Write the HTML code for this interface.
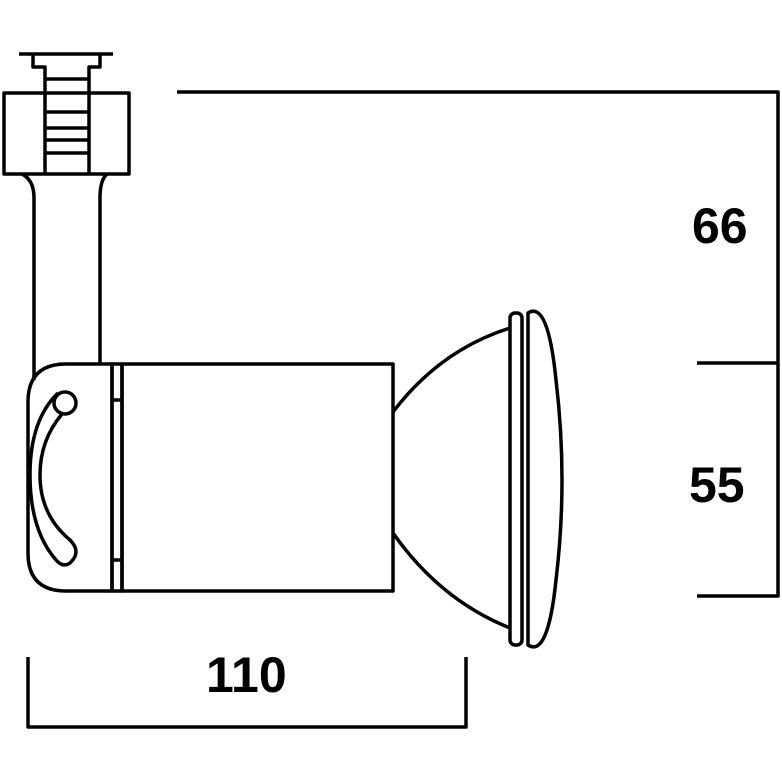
<!DOCTYPE html>
<html><head><style>
html,body{margin:0;padding:0;background:#fff;}
svg{display:block;}
text{font-family:"Liberation Sans",sans-serif;font-weight:bold;font-size:50px;fill:#000;}
</style></head><body>
<svg width="782" height="783" viewBox="0 0 782 783" xmlns="http://www.w3.org/2000/svg">
<g fill="none" stroke="#000" stroke-width="3.5" stroke-linejoin="round">
<!-- top cap -->
<line x1="19" y1="54" x2="113" y2="54"/>
<polyline points="33,54 33,67 45,67 45,78"/>
<polyline points="100,54 100,67 89,67 89,78"/>
<line x1="45" y1="78" x2="45" y2="174"/>
<line x1="89" y1="78" x2="89" y2="174"/>
<line x1="45" y1="79" x2="89" y2="79"/>
<line x1="45" y1="112" x2="89" y2="112"/>
<line x1="45" y1="128" x2="89" y2="128"/>
<line x1="45" y1="140" x2="89" y2="140"/>
<line x1="45" y1="153" x2="89" y2="153"/>
<rect x="4" y="93" width="125" height="81"/>
<!-- stem -->
<path d="M22,174 Q34,180 34,198 L34,380"/>
<path d="M107,174 Q100,180 100,198 L100,364"/>
<!-- left cap -->
<path d="M112,364 L66,364 Q28,364 28,402 L28,553 Q28,591 66,591 L112,591 Z"/>
<rect x="112" y="364" width="10" height="227"/>
<line x1="112" y1="400" x2="122" y2="400"/>
<line x1="112" y1="560" x2="122" y2="560"/>
<circle cx="65" cy="403" r="11"/>
<path d="M58,393 Q30,420 30,475 Q30,530 56,560"/>
<path d="M62,414 Q40,440 40,475 Q40,515 70,540 Q82,552 70,563 Q63,568 56,560"/>
<!-- main body -->
<rect x="122" y="364" width="271" height="227"/>
<!-- lamp -->
<path d="M393,412 Q440,350 510,328"/>
<path d="M393,533 Q440,600 510,628"/>
<rect x="510" y="313" width="12" height="332" rx="5"/>
<path d="M528,313 Q548,300 556,380 Q568,480 556,580 Q548,658 528,645 Z"/>
<!-- dimensions -->
<polyline points="177,92 778,92 778,596 697,596"/>
<line x1="697" y1="363" x2="778" y2="363"/>
<polyline points="28,657 28,727 466,727 466,657"/>
</g>
<text x="692" y="243">66</text>
<text x="689" y="502">55</text>
<text x="206" y="692">110</text>
</svg>
</body></html>
